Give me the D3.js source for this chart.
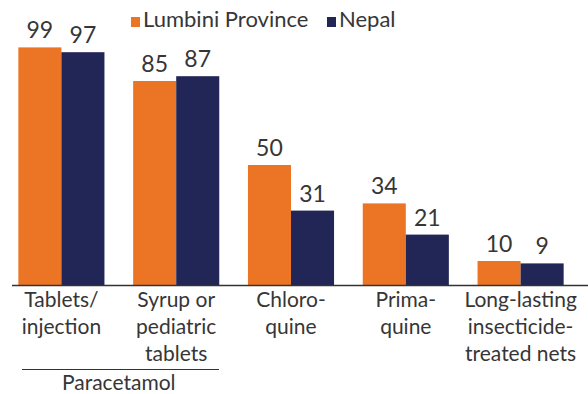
<!DOCTYPE html>
<html>
<head>
<meta charset="utf-8">
<script src="https://cdn.jsdelivr.net/npm/d3@7"></script>
<style>
  html, body { margin: 0; padding: 0; background: #fff; }
  svg { display: block; font-family: "Lato", "Open Sans", sans-serif; }
</style>
</head>
<body>
<svg id="chart" width="588" height="394"></svg>
<script>
// Availability of malaria-related commodities (%)
const categories = [
  ["Tablets/", "injection"],
  ["Syrup or", "pediatric", "tablets"],
  ["Chloro-", "quine"],
  ["Prima-", "quine"],
  ["Long-lasting", "insecticide-", "treated nets"]
];
const seriesNames = ["Lumbini Province", "Nepal"];
const lumbini = [99, 85, 50, 34, 10];
const nepal = [97, 87, 31, 21, 9];
const groupLabel = "Paracetamol";

const colors = ["#EB7525", "#212657"];
const textColor = "#363636";

const svg = d3.select("#chart");
const baseY = 285;

const x = d3.scaleBand()
  .domain(d3.range(categories.length))
  .range([4, 578])
  .paddingInner(0.25)
  .paddingOuter(0.125);

const xs = d3.scaleBand()
  .domain(seriesNames)
  .range([0, x.bandwidth()]);

const y = d3.scaleLinear().domain([0, 100]).range([baseY, 45]);

const series = [lumbini, nepal];

const groups = svg.append("g").selectAll("g")
  .data(categories.map((c, i) => i))
  .join("g")
  .attr("transform", i => `translate(${x(i)},0)`);

groups.selectAll("rect")
  .data(i => seriesNames.map((s, k) => ({ s, k, v: series[k][i] })))
  .join("rect")
  .attr("x", d => xs(d.s))
  .attr("width", xs.bandwidth())
  .attr("y", d => y(d.v))
  .attr("height", d => baseY - y(d.v))
  .attr("fill", d => colors[d.k]);

groups.selectAll("text.val")
  .data(i => seriesNames.map((s, k) => ({ s, k, v: series[k][i] })))
  .join("text")
  .attr("class", "val")
  .attr("x", d => xs(d.s) + xs.bandwidth() / 2)
  .attr("y", d => y(d.v) - 9)
  .attr("text-anchor", "middle")
  .attr("font-size", 23)
  .attr("fill", textColor)
  .text(d => d.v);

// baseline
svg.append("line")
  .attr("x1", 12).attr("x2", 588)
  .attr("y1", baseY + 0.5).attr("y2", baseY + 0.5)
  .attr("stroke", "#333").attr("stroke-width", 1.5);

// category labels
const catText = svg.append("g").selectAll("text")
  .data(categories)
  .join("text")
  .attr("x", (d, i) => x(i) + x.bandwidth() / 2)
  .attr("y", 307)
  .attr("text-anchor", "middle")
  .attr("font-size", 21)
  .attr("fill", textColor);
catText.selectAll("tspan")
  .data(d => d)
  .join("tspan")
  .attr("x", function () { return this.parentNode.getAttribute("x"); })
  .attr("dy", (d, j) => j === 0 ? 0 : 27)
  .text(d => d);

// grouping bracket for the first two categories
svg.append("line")
  .attr("x1", 22).attr("x2", 219)
  .attr("y1", 369.5).attr("y2", 369.5)
  .attr("stroke", "#333").attr("stroke-width", 1.2);
svg.append("text")
  .attr("x", (x(0) + x(1) + x.bandwidth()) / 2)
  .attr("y", 390)
  .attr("text-anchor", "middle")
  .attr("font-size", 21)
  .attr("fill", textColor)
  .text(groupLabel);

// legend
const legendX = [131, 327];
const legend = svg.append("g").selectAll("g")
  .data(seriesNames)
  .join("g")
  .attr("transform", (d, i) => `translate(${legendX[i]},0)`);
legend.append("rect")
  .attr("x", 0).attr("y", 17)
  .attr("width", 9).attr("height", 10)
  .attr("fill", (d, i) => colors[i]);
legend.append("text")
  .attr("x", 12).attr("y", 27)
  .attr("font-size", 22)
  .attr("fill", textColor)
  .text(d => d);
</script>
</body>
</html>
